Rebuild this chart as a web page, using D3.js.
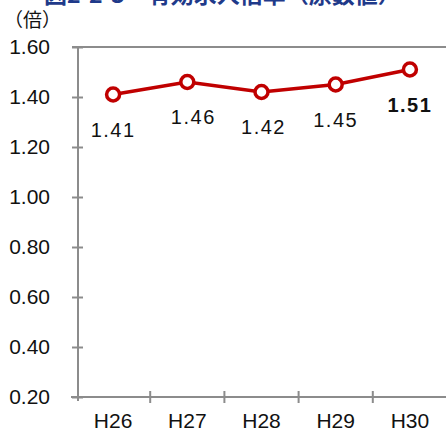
<!DOCTYPE html>
<html><head><meta charset="utf-8">
<script src="https://cdn.jsdelivr.net/npm/d3@7"></script>
<style>body{margin:0;background:#fff}svg{display:block}</style>
</head><body>
<script>
const categories = ["H26","H27","H28","H29","H30"];
const values = [1.41,1.46,1.42,1.45,1.51];
const yTicks = [0.2,0.4,0.6,0.8,1.0,1.2,1.4,1.6];
const title = "図2-2-3　有効求人倍率（原数値）";
const unit = "（倍）";

const W=446,H=433;
const svg=d3.select("body").append("svg").attr("width",W).attr("height",H);
const font="'Liberation Sans', Arial, sans-serif";
const cjk="'Noto Sans CJK JP', sans-serif";

const x=d3.scaleBand().domain(categories).range([76,447]);
const y=d3.scaleLinear().domain([0.2,1.6]).range([397,47]);
const axisX0=78;
const gray="#8c8c8c";

// title (cropped)
svg.append("text").attr("x",44).attr("y",3).attr("font-family",cjk).attr("font-weight","bold")
  .attr("font-size",23).attr("fill","#1f3a8a").text(title);
svg.append("text").attr("x",4).attr("y",27).attr("font-family",cjk).attr("font-size",19)
  .attr("fill","#111").text(unit);

// top border
svg.append("line").attr("x1",72).attr("x2",W).attr("y1",y(1.6)).attr("y2",y(1.6))
  .attr("stroke",gray).attr("stroke-width",2);

// y axis
const ya=d3.axisLeft(y).tickValues(yTicks).tickFormat(d3.format(".2f")).tickSize(0).tickPadding(28);
const gy=svg.append("g").attr("transform",`translate(${axisX0},0)`).call(ya);
gy.select(".domain").remove();
gy.selectAll("text").attr("font-family",font).attr("font-size",21).attr("fill","#111");
gy.selectAll(".tick").append("line").attr("x1",-6).attr("x2",5).attr("stroke",gray).attr("stroke-width",2);
svg.append("line").attr("x1",axisX0).attr("x2",axisX0).attr("y1",y(1.6)).attr("y2",y(0.2)+4)
  .attr("stroke",gray).attr("stroke-width",2);

// x axis
svg.append("line").attr("x1",71).attr("x2",W).attr("y1",y(0.2)).attr("y2",y(0.2))
  .attr("stroke",gray).attr("stroke-width",2);
const xa=d3.axisBottom(x).tickSize(0).tickPadding(16);
const gx=svg.append("g").attr("transform",`translate(0,${y(0.2)})`).call(xa);
gx.select(".domain").remove();
gx.selectAll("text").attr("font-family",font).attr("font-size",21).attr("fill","#111");
categories.slice(1).forEach(c=>{
  svg.append("line").attr("x1",x(c)).attr("x2",x(c)).attr("y1",y(0.2)-6).attr("y2",y(0.2)+6)
    .attr("stroke",gray).attr("stroke-width",2);
});

// line
const cx=d=>x(d)+x.bandwidth()/2;
const line=d3.line().x((d,i)=>cx(categories[i])).y(d=>y(d));
svg.append("path").datum(values).attr("d",line).attr("fill","none").attr("stroke","#c00000").attr("stroke-width",3.5);
svg.selectAll("circle.pt").data(values).enter().append("circle")
  .attr("cx",(d,i)=>cx(categories[i])).attr("cy",d=>y(d)).attr("r",6.5)
  .attr("fill","#fff").attr("stroke","#c00000").attr("stroke-width",3.5);

// labels
const dx=[0,6,2,0,0];
svg.selectAll("text.lbl").data(values).enter().append("text")
  .attr("x",(d,i)=>cx(categories[i])+dx[i]).attr("y",d=>y(d)+42)
  .attr("text-anchor","middle").attr("font-family",font).attr("font-size",20)
  .attr("letter-spacing",1.5)
  .attr("font-weight",(d,i)=>i===values.length-1?"bold":"normal")
  .attr("fill","#111").text(d=>d.toFixed(2));
</script>
</body></html>
